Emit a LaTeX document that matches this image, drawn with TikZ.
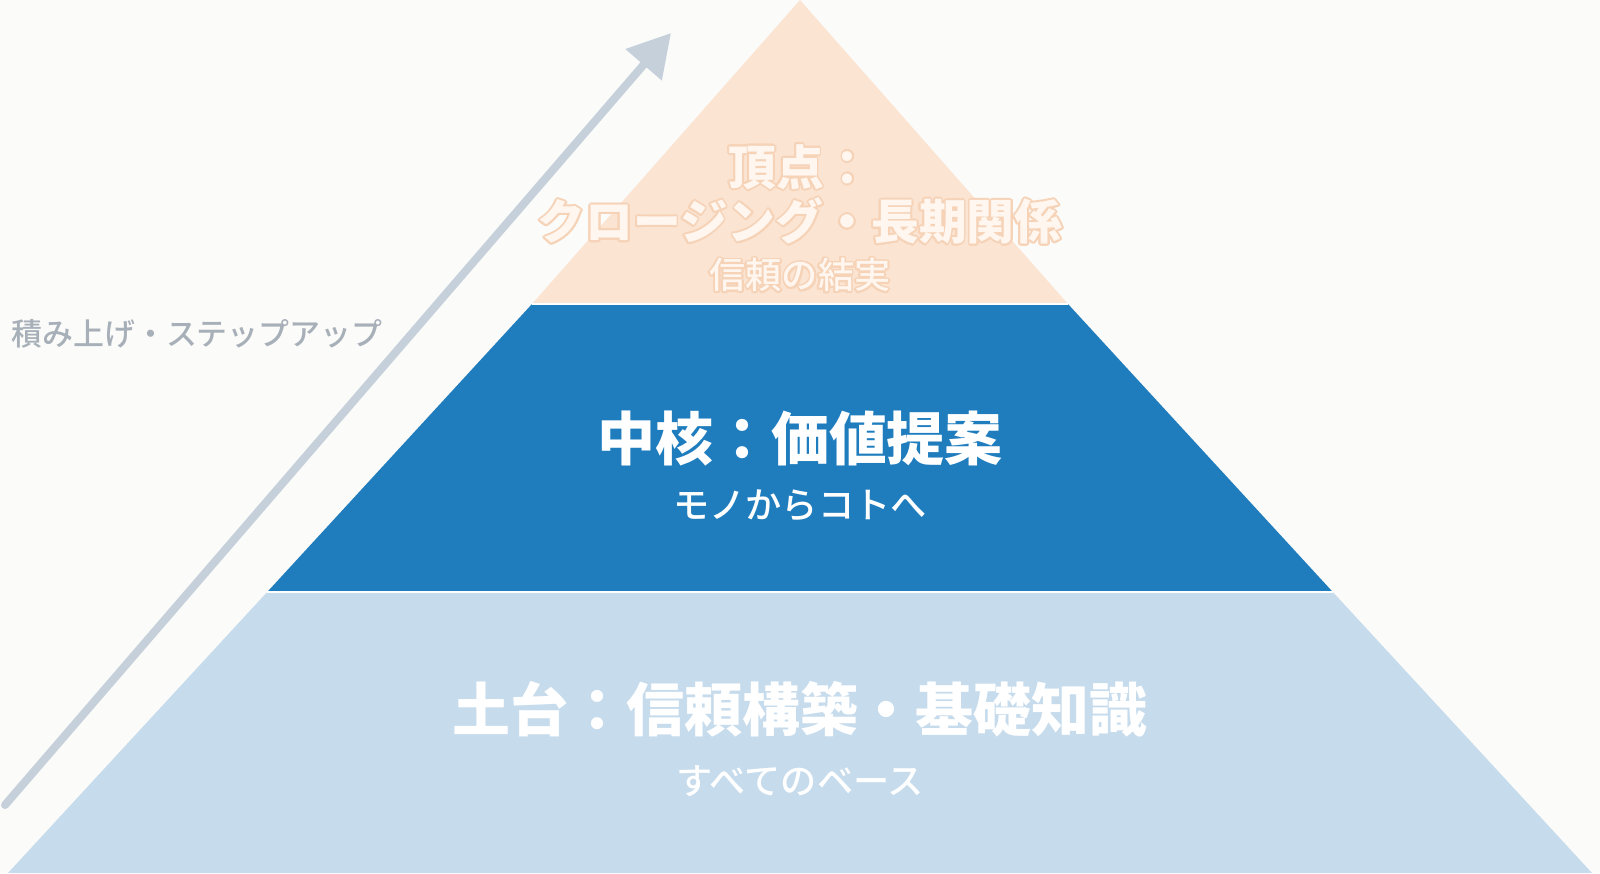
\documentclass[tikz,border=0pt]{standalone}
\usepackage{fontspec}
\usepackage{contour}
\setmainfont{Noto Sans CJK JP}
\newfontfamily\jpmedium{Noto Sans CJK JP Medium}
\usetikzlibrary{arrows.meta}
\definecolor{paper}{HTML}{FBFBF9}
\definecolor{peach}{HTML}{FBE4D2}
\definecolor{peachtext}{HTML}{FEF6EF}
\definecolor{peachline}{HTML}{F6D2B6}
\definecolor{core}{HTML}{1F7DBE}
\definecolor{base}{HTML}{C6DBEC}
\definecolor{steparrow}{HTML}{C5D0DB}
\definecolor{steptext}{HTML}{A7AFB8}
\contourlength{.5pt}
\begin{document}
\begin{tikzpicture}[x=.1mm,y=-.1mm,
    title/.style={font=\bfseries\fontsize{16.5pt}{18pt}\selectfont,text=white},
    sub/.style={font=\jpmedium\fontsize{10.3pt}{12pt}\selectfont,text=white},
    toptitle/.style={font=\bfseries\fontsize{13.6pt}{15pt}\selectfont,text=peachtext},
    topsub/.style={font=\jpmedium\fontsize{10.3pt}{12pt}\selectfont,text=peachtext},
    seam/.style={draw=white,line width=.25mm}]
  \fill[paper] (0,0) rectangle (1600,873);
  \useasboundingbox (0,0) rectangle (1600,873);
  % pyramid, apex at (800,0), sides of slope .9
  \coordinate (apex) at (800,0);
  \coordinate (l1) at (532,304);    \coordinate (r1) at (1068,304);
  \coordinate (l2) at (267.2,592);  \coordinate (r2) at (1332.8,592);
  \coordinate (l3) at (8,873);      \coordinate (r3) at (1592,873);
  \fill[peach] (apex) -- (r1) -- (l1) -- cycle;
  \fill[core] (l1) -- (r1) -- (r2) -- (l2) -- cycle;
  \fill[base] (l2) -- (r2) -- (r3) -- (l3) -- cycle;
  \draw[seam] (l1) -- (r1);
  \draw[seam] (l2) -- (r2);
  % labels of the three levels
  \node[toptitle] (peak) at (800,168) {\contour{peachline}{頂点：}};
  \node[toptitle] (close) at (800,222) {\contour{peachline}{クロージング・長期関係}};
  \node[topsub] (fruit) at (800,276) {\contour{peachline}{信頼の結実}};
  \node[title] (value) at (800,439) {中核：価値提案};
  \node[sub] (koto) at (800,505) {モノからコトへ};
  \node[title] (ground) at (800,709) {土台：信頼構築・基礎知識};
  \node[sub] (all) at (800,781) {すべてのベース};
  % step-up arrow
  \coordinate (tail) at (5,805);
  \coordinate (tip) at (671,33);
  \draw[steparrow,line width=.8mm,line cap=round,
    -{Triangle[length=4.2mm,width=4.6mm]}] (tail) -- (tip);
  \node[font=\jpmedium\fontsize{8.8pt}{10pt}\selectfont,text=steptext]
    (stack) at (197,334) {積み上げ・ステップアップ};
\end{tikzpicture}
\end{document}
